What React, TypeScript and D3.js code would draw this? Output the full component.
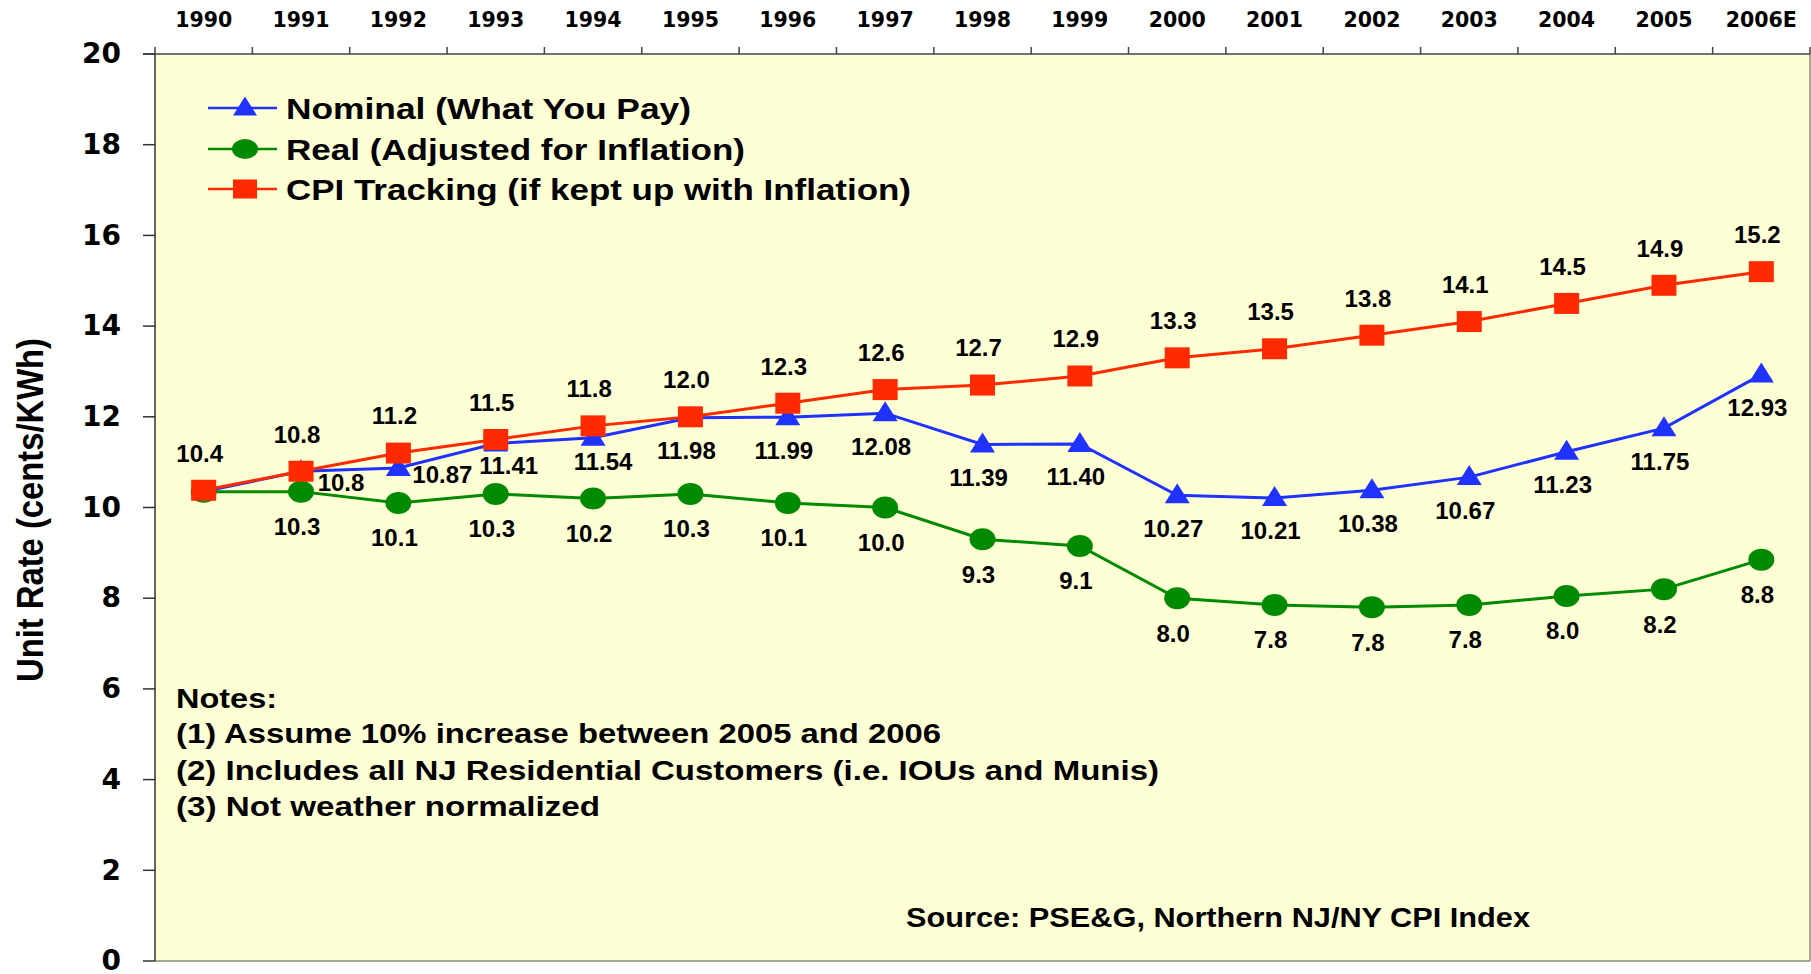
import React from 'react';
import * as d3 from 'd3';

const years = ['1990', '1991', '1992', '1993', '1994', '1995', '1996', '1997', '1998', '1999', '2000', '2001', '2002', '2003', '2004', '2005', '2006E'];

const nominal = [10.35, 10.8, 10.87, 11.41, 11.54, 11.98, 11.99, 12.08, 11.39, 11.4, 10.27, 10.21, 10.38, 10.67, 11.23, 11.75, 12.93];
const nominalLabels = ['', '10.8', '10.87', '11.41', '11.54', '11.98', '11.99', '12.08', '11.39', '11.40', '10.27', '10.21', '10.38', '10.67', '11.23', '11.75', '12.93'];

const real = [10.35, 10.35, 10.1, 10.3, 10.2, 10.3, 10.1, 10.0, 9.3, 9.15, 8.0, 7.85, 7.8, 7.85, 8.05, 8.2, 8.85];
const realLabels = ['', '10.3', '10.1', '10.3', '10.2', '10.3', '10.1', '10.0', '9.3', '9.1', '8.0', '7.8', '7.8', '7.8', '8.0', '8.2', '8.8'];

const cpi = [10.38, 10.8, 11.2, 11.5, 11.8, 12.0, 12.3, 12.6, 12.7, 12.9, 13.3, 13.5, 13.8, 14.1, 14.5, 14.9, 15.2];
const cpiLabels = ['10.4', '10.8', '11.2', '11.5', '11.8', '12.0', '12.3', '12.6', '12.7', '12.9', '13.3', '13.5', '13.8', '14.1', '14.5', '14.9', '15.2'];

const yTicks = [0, 2, 4, 6, 8, 10, 12, 14, 16, 18, 20];

const legendNames = ['Nominal (What You Pay)', 'Real (Adjusted for Inflation)', 'CPI Tracking (if kept up with Inflation)'];
const notes = ['Notes:', '(1) Assume 10% increase between 2005 and 2006', '(2) Includes all NJ Residential Customers (i.e. IOUs and Munis)', '(3) Not weather normalized'];
const sourceText = 'Source: PSE&G, Northern NJ/NY CPI Index';

const W = 1811;
const H = 974;
const left = 155, right = 1810, top = 54, bottom = 961;

const BLUE = '#1f32ff';
const GREEN = '#008a00';
const RED = '#ff2a00';

const verdana = '"DejaVu Sans", Verdana, sans-serif';
const arial = '"Liberation Sans", Arial, sans-serif';

// nudges for crowded nominal labels (center offsets from the point)
const nominalNudge: Record<number, [number, number]> = {
  1: [40, 11],
  2: [44, 7],
  3: [13, 22],
  4: [10, 24],
};

const Triangle = ({ cx, cy, w = 25, h = 20, fill }: any) => (
  <path d={`M${cx},${cy - h * 0.6} L${cx + w / 2},${cy + h * 0.4} L${cx - w / 2},${cy + h * 0.4} Z`} fill={fill} />
);

const App = () => {
  const x = d3.scaleBand().domain(years).range([left, right]);
  const bw = x.bandwidth();
  const cx = (d: string) => (x(d) as number) + bw / 2;
  const y = d3.scaleLinear().domain([0, 20]).range([bottom, top]);

  const line = d3.line<number>()
    .x((d, i) => cx(years[i]))
    .y(d => y(d));

  const boundaries = years.map(d => x(d) as number).concat([right]);

  const legendRows = [108, 149, 189];
  const legendLen = [405, 459, 625];
  const notesY = [698, 733, 770, 806];
  const notesLen = [101, 765, 983, 424];

  return (
    <svg width={W} height={H} style={{ position: 'absolute', left: 0, top: 0, display: 'block', background: '#fff' }}>
      {/* plot background with shadow border */}
      <rect x={left} y={top} width={right - left} height={bottom - top} fill="#ffffd5" />
      <line x1={left} x2={right} y1={bottom} y2={bottom} stroke="#a9a98f" strokeWidth={2} />
      <line x1={right} x2={right} y1={top} y2={bottom} stroke="#a9a98f" strokeWidth={2} />

      {/* top axis */}
      <line x1={143} x2={right} y1={top} y2={top} stroke="#444" strokeWidth={1.5} />
      {boundaries.map((b, i) => (
        <line key={'bt' + i} x1={b} x2={b} y1={top - 7} y2={top} stroke="#444" strokeWidth={1.5} />
      ))}
      {years.map(d => (
        <text key={'yr' + d} x={cx(d)} y={27} textAnchor="middle" fontFamily={verdana} fontWeight="bold" fontSize={20.5}>{d}</text>
      ))}

      {/* y axis */}
      <line x1={left} x2={left} y1={top} y2={bottom} stroke="#333" strokeWidth={1.5} />
      {yTicks.map(t => (
        <g key={'yt' + t}>
          <line x1={143} x2={left} y1={y(t)} y2={y(t)} stroke="#333" strokeWidth={1.5} />
          <text x={121} y={y(t)} dy="0.33em" textAnchor="end" fontFamily={verdana} fontWeight="bold" fontSize={28}>{t}</text>
        </g>
      ))}
      <text transform={`translate(43,510) rotate(-90)`} textAnchor="middle" fontFamily={arial} fontWeight="bold" fontSize={37}
        textLength={344} lengthAdjust="spacingAndGlyphs">Unit Rate (cents/KWh)</text>

      {/* series lines */}
      <path d={line(real) as string} fill="none" stroke={GREEN} strokeWidth={3} />
      {real.map((v, i) => (
        <ellipse key={'rm' + i} cx={cx(years[i])} cy={y(v)} rx={13} ry={11} fill={GREEN} />
      ))}
      <path d={line(nominal) as string} fill="none" stroke={BLUE} strokeWidth={3} />
      {nominal.map((v, i) => (
        <Triangle key={'nm' + i} cx={cx(years[i])} cy={y(v)} fill={BLUE} />
      ))}
      <path d={line(cpi) as string} fill="none" stroke={RED} strokeWidth={3} />
      {cpi.map((v, i) => (
        <rect key={'cm' + i} x={cx(years[i]) - 12.5} y={y(v) - 10.5} width={25} height={21} fill={RED} />
      ))}

      {/* data labels */}
      <g fontFamily={arial} fontWeight="bold" fontSize={24} textAnchor="middle">
        {cpiLabels.map((l, i) => (
          <text key={'cl' + i} x={cx(years[i]) - 4} y={y(cpi[i]) - 37} dy="0.35em">{l}</text>
        ))}
        {realLabels.map((l, i) => (
          <text key={'rl' + i} x={cx(years[i]) - 4} y={y(real[i]) + 35} dy="0.35em">{l}</text>
        ))}
        {nominalLabels.map((l, i) => {
          const [ox, oy] = nominalNudge[i] || [-4, 33];
          return <text key={'nl' + i} x={cx(years[i]) + ox} y={y(nominal[i]) + oy} dy="0.35em">{l}</text>;
        })}
      </g>

      {/* legend */}
      {legendNames.map((n, i) => {
        const ly = legendRows[i];
        const col = [BLUE, GREEN, RED][i];
        return (
          <g key={'lg' + i}>
            <line x1={208} x2={277} y1={ly} y2={ly} stroke={col} strokeWidth={2.5} />
            {i === 0 && <Triangle cx={245} cy={ly} w={24} h={19} fill={BLUE} />}
            {i === 1 && <ellipse cx={245} cy={ly} rx={13} ry={10} fill={GREEN} />}
            {i === 2 && <rect x={233} y={ly - 9.5} width={24} height={19} fill={RED} />}
            <text x={286} y={ly} dy="0.36em" fontFamily={arial} fontWeight="bold" fontSize={30}
              textLength={legendLen[i]} lengthAdjust="spacingAndGlyphs">{n}</text>
          </g>
        );
      })}

      {/* notes */}
      {notes.map((n, i) => (
        <text key={'nt' + i} x={176} y={notesY[i]} dy="0.36em" fontFamily={arial} fontWeight="bold" fontSize={27}
          textLength={notesLen[i]} lengthAdjust="spacingAndGlyphs">{n}</text>
      ))}
      <text x={906} y={917} dy="0.36em" fontFamily={arial} fontWeight="bold" fontSize={27}
        textLength={624} lengthAdjust="spacingAndGlyphs">{sourceText}</text>
    </svg>
  );
};

export default App;
